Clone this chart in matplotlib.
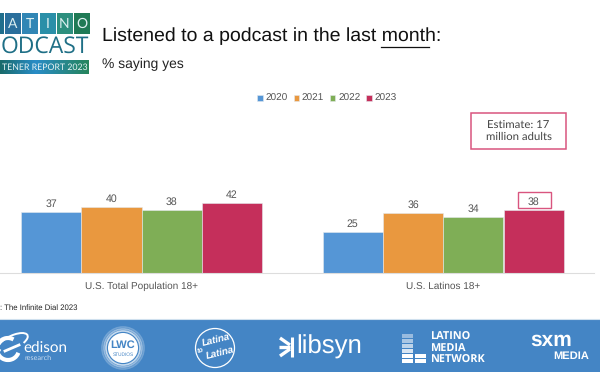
import numpy as np
import matplotlib
matplotlib.use("Agg")
import matplotlib.pyplot as plt
from matplotlib.patches import Rectangle, Circle, Arc

categories = ["U.S. Total Population 18+", "U.S. Latinos 18+"]
years = ["2020", "2021", "2022", "2023"]
v2020 = [37, 25]
v2021 = [40, 36]
v2022 = [38, 34]
v2023 = [42, 38]
series = [v2020, v2021, v2022, v2023]
colors = ["#5596D6", "#E9983F", "#7FAE56", "#C52F5B"]

W, H = 600, 372
plt.rcParams["font.family"] = ["Liberation Sans", "DejaVu Sans"]
plt.rcParams["text.hinting"] = "none"
plt.rcParams["text.hinting_factor"] = 8
fig = plt.figure(figsize=(W / 100, H / 100), dpi=100, facecolor="white")

deco = fig.add_axes([0, 0, 1, 1], zorder=0)
deco.set_xlim(0, W); deco.set_ylim(H, 0); deco.axis("off")

ax = fig.add_axes([0, (H - 273) / H, 594 / W, 166 / H], zorder=1)
ax.patch.set_alpha(0)
step = 301.7
bw = 60.3 / step
ax.set_xlim(-141.5 / step, (594 - 141.5) / step)
ax.set_ylim(0, 100)
x = np.arange(len(categories))
handles = []
for i, (vals, c, yr) in enumerate(zip(series, colors, years)):
    b = ax.bar(x + (i - 1.5) * bw, vals, bw, color=c, edgecolor="#E4E9EE", linewidth=0.4, label=yr)
    handles.append(b)
    ax.bar_label(b, padding=2, fontsize=7.6, color="#555555")
for s in ["top", "left", "right"]:
    ax.spines[s].set_visible(False)
ax.spines["bottom"].set_color("#DDDDDD")
ax.spines["bottom"].set_linewidth(0.8)
ax.set_yticks([])
ax.set_xticks(x, categories, fontsize=7.2, color="#555555")
ax.tick_params(axis="x", length=0, pad=6)
fig.legend(handles=handles, ncols=4, loc="center", bbox_to_anchor=(327 / W, 1 - 98.5 / H),
           frameon=False, fontsize=7.2, labelcolor="#555555", handlelength=0.55, handleheight=0.55,
           handletextpad=0.3, columnspacing=0.55, borderpad=0)

# title
deco.text(102, 36, "Listened to a podcast in the last month:", fontsize=14.0, color="#111111", va="center")
deco.plot([381, 429], [46.5, 46.5], color="#111111", lw=0.9)
deco.text(102, 64, "% saying yes", fontsize=10, color="#222222", va="center")

# callouts
deco.add_patch(Rectangle((471, 113), 95, 36, fill=False, ec="#D9557F", lw=1.1))
deco.text(518.5, 131, "Estimate: 17\nmillion adults", fontsize=8.2, family="Lato", color="#444444",
          ha="center", va="center", linespacing=1.25)
deco.add_patch(Rectangle((518, 192), 33, 15.5, fill=False, ec="#D9557F", lw=1.0))

# source
deco.text(0.5, 308, ": The Infinite Dial 2023", fontsize=5.55, color="#222222", ha="left", va="center")

# header logo
tile_cols = ["#1F6E8C", "#2A6F9C", "#3186B5", "#2A8FA8", "#2C8F7E", "#1F7A55"]
tile_x = [-12, 5, 22.3, 39.5, 56.5, 73.5]
for tx, c, ch in zip(tile_x, tile_cols, " ATINO"):
    deco.add_patch(Rectangle((tx, 13), 16, 21, color=c, lw=0))
    deco.text(tx + 8, 23.7, ch, color="#DCEFF0", fontsize=10, ha="center", va="center", family="Lato")
deco.text(89, 47, "ODCAST", color="#1F6F86", fontsize=16.5, fontweight="medium", ha="right", va="center",
          family="Open Sans")
grad = np.linspace(0, 1, 64)[None, :, None]
c1, c2, c3 = np.array([0.10, 0.42, 0.42]), np.array([0.16, 0.55, 0.78]), np.array([0.15, 0.52, 0.36])
g = np.where(grad < 0.4, c1 + (c2 - c1) * grad / 0.4, c2 + (c3 - c2) * (grad - 0.4) / 0.6)
deco.imshow(g, extent=(0, 89, 74, 60), aspect="auto", zorder=1)
deco.set_xlim(0, W); deco.set_ylim(H, 0)
deco.text(87.5, 67, "TENER REPORT 2023", color="#E8F4F4", fontsize=6.3, ha="right", va="center",
          family="Lato", zorder=2)

# footer band
deco.add_patch(Rectangle((0, 319), W, 53, color="#4485C5", lw=0, zorder=1))
deco.plot([0, W], [319, 319], color="#CFE0EE", lw=0.8, zorder=2)
WH = "white"
# edison
deco.add_patch(Arc((8, 349), 22, 22, theta1=20, theta2=300, ec=WH, lw=3, zorder=3))
deco.add_patch(Arc((13, 342), 32, 13, angle=-25, theta1=170, theta2=390, ec=WH, lw=1.4, zorder=3))
deco.plot([5, 19], [351, 345], color=WH, lw=2, zorder=3)
deco.text(23, 348, "edison", color=WH, fontsize=11, family="Lato", va="center", zorder=3)
deco.text(24, 358, "research", color="#C9DCEF", fontsize=5.2, family="Lato", va="center", zorder=3)
# LWC
for r, a in [(21, 0.25), (19, 0.45), (17, 0.7)]:
    deco.add_patch(Circle((123, 348), r, fill=False, ec=WH, lw=1.2, alpha=a, zorder=3))
deco.add_patch(Circle((123, 348), 15, color=WH, lw=0, zorder=3))
deco.text(123, 345, "LWC", color="#4485C5", fontsize=8, fontweight="bold", ha="center", va="center", zorder=4)
deco.text(123, 355, "STUDIOS", color="#4485C5", fontsize=3.4, ha="center", va="center", zorder=4)
# Latina
deco.add_patch(Circle((215, 348), 19.5, fill=False, ec=WH, lw=0.9, zorder=3))
for tx, ty, s, fs in [(216, 340, "Latina", 7), (200, 350, "to", 5), (220, 353, "Latina", 7)]:
    deco.text(tx, ty, s, color=WH, fontsize=fs, fontstyle="italic", fontweight="bold", rotation=14,
              ha="center", va="center", zorder=4)
# libsyn
for a, b in [((280, 338), (290, 345)), ((279, 347), (290, 347)), ((280, 356), (290, 349))]:
    deco.plot([a[0], b[0]], [a[1], b[1]], color=WH, lw=2.4, solid_capstyle="butt", zorder=3)
deco.plot([291.5, 291.5], [337, 357], color=WH, lw=2.2, solid_capstyle="butt", zorder=3)
deco.text(296, 347, "libsyn", color=WH, fontsize=18.5, va="center", zorder=3)
# Latino Media Network
for yy, a in zip([334, 339, 344, 349, 354], [0.45, 0.55, 0.65, 0.8, 1]):
    deco.add_patch(Rectangle((402, yy), 11, 3.8, color=WH, alpha=a, lw=0, zorder=3))
deco.add_patch(Rectangle((402, 359), 11, 3.8, color=WH, lw=0, zorder=3))
deco.add_patch(Rectangle((415, 354), 10.5, 3.8, color=WH, lw=0, zorder=3))
deco.add_patch(Rectangle((415, 359), 10.5, 3.8, color=WH, lw=0, zorder=3))
deco.text(430, 348.5, "LATINO\nMEDIA\nNETWORK", color=WH, fontsize=7.8, fontweight="bold", va="center",
          linespacing=1.02, zorder=3, family="Open Sans")
# SXM
deco.text(530, 340, "sxm", color=WH, fontsize=15, fontweight="bold", va="center", zorder=3)
deco.text(589, 356.5, "MEDIA", color=WH, fontsize=8, fontweight="bold", ha="right", va="center", zorder=3)

fig.savefig("out.png", dpi=100)
